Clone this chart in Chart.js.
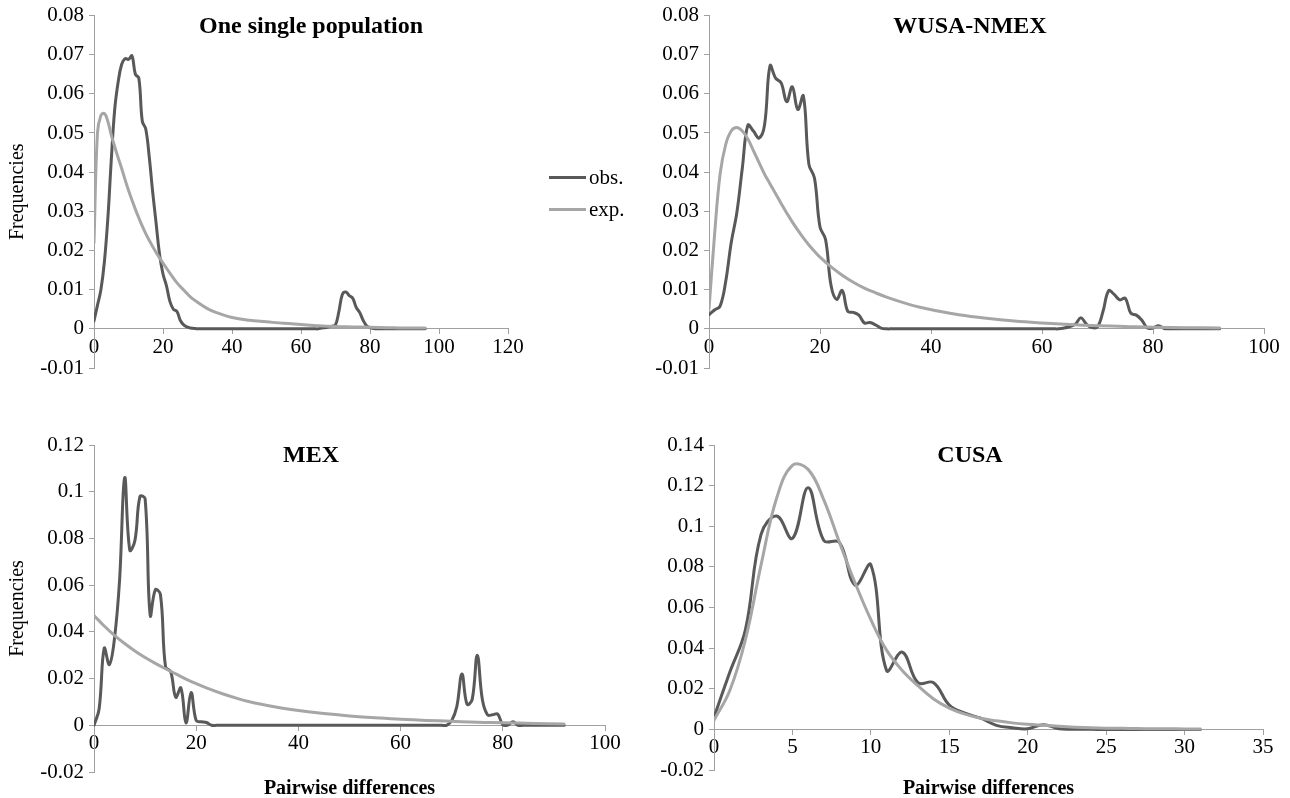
<!DOCTYPE html>
<html>
<head>
<meta charset="utf-8">
<script src="https://cdn.jsdelivr.net/npm/chart.js@4.4.1/dist/chart.umd.min.js"></script>
<style>
  html, body { margin: 0; padding: 0; background: #fff; }
  body { width: 1290px; height: 798px; position: relative; overflow: hidden; font-family: 'Liberation Serif', 'Times New Roman', serif; }
  canvas { position: absolute; }
  .leg { position: absolute; font-size: 21px; color: #000; line-height: 22px; }
  .leg .ln { position: absolute; left: 0; top: 10px; width: 37px; height: 3px; }
  .leg .tx { position: absolute; left: 40px; top: 0; white-space: nowrap; }
</style>
</head>
<body>
<canvas id="c1" width="640" height="395" style="left:0;top:0"></canvas>
<canvas id="c2" width="650" height="395" style="left:640px;top:0"></canvas>
<canvas id="c3" width="640" height="398" style="left:0;top:400px"></canvas>
<canvas id="c4" width="650" height="398" style="left:640px;top:400px"></canvas>
<div class="leg" style="left:549px;top:166px"><div class="ln" style="background:#595959"></div><div class="tx">obs.</div></div>
<div class="leg" style="left:549px;top:198px"><div class="ln" style="background:#a6a6a6"></div><div class="tx">exp.</div></div>
<script>
// ---------- DATA ----------
const seriesNames = ['obs.', 'exp.'];
const panelTitles = ['One single population', 'WUSA-NMEX', 'MEX', 'CUSA'];
const yAxisTitle = 'Frequencies';
const xAxisTitle = 'Pairwise differences';

// One single population: observed at x = 0..96
const singleObs = [0.002,0.006,0.010,0.017,0.028,0.043,0.056,0.063,0.0675,0.069,
  0.0688,0.0697,0.065,0.064,0.053,0.051,0.044,0.035,0.027,0.019,
  0.014,0.011,0.007,0.005,0.0045,0.0022,0.001,0.0005,0.0002,0.0001,
  0,0,0,0,0,0,0,0,0,0, 0,0,0,0,0,0,0,0,0,0, 0,0,0,0,0,0,0,0,0,0, 0,0,0,0,0,0,
  0.0002,0.0003,0.0005,0.0007,0.001,0.0045,0.0088,0.0094,0.0085,0.0078,
  0.0055,0.0042,0.0022,0.0008,0.0003,0.0001,
  0,0,0,0,0,0,0,0,0,0,0,0,0,0,0];
const singleExpX = [0,1,2,3,4,5,6,7,8,9,10,11,12,13,14,15,16,17,18,19,20,22,24,26,28,30,33,36,40,45,50,55,60,65,70,75,80,85,90,96];
const singleExpY = [0.022,0.050,0.0545,0.055,0.053,0.0495,0.0465,0.0437,0.041,0.0381,
  0.0354,0.0329,0.0305,0.0283,0.0262,0.0243,0.0226,0.021,0.0195,0.0181,
  0.0168,0.0142,0.0118,0.0099,0.0081,0.0068,0.0051,0.004,0.0029,
  0.0022,0.0018,0.0014,0.0011,0.0008,0.0006,0.0005,0.0004,0.0003,0.0002,0.0002];

// WUSA-NMEX: observed at x = 0..92
const wusaObs = [0.0036,0.0048,0.0058,0.012,0.022,0.0295,0.041,0.052,0.0505,0.0487,
  0.052,0.0672,0.064,0.0628,0.058,0.0618,0.056,0.0595,0.042,0.0385,
  0.026,0.0228,0.011,0.0075,0.0098,0.0045,0.0042,0.0035,0.0015,0.0016,
  0.001,0.0002,
  0,0,0,0,0,0,0,0,0,0, 0,0,0,0,0,0,0,0,0,0, 0,0,0,0,0,0,0,0,0,0, 0,0,
  0.0002,0.0006,0.0012,0.0028,0.0012,0.0003,0.0005,0.0045,0.0097,0.0088,
  0.0074,0.0078,0.004,0.0035,0.0022,0.0002,0.0002,0.0008,0.0001,
  0,0,0,0,0,0,0,0,0,0];
const wusaExpX = [0,1,2,3,4,5,6,7,8,9,10,11,12,13,14,15,16,17,18,19,20,22,24,26,28,30,32,35,38,41,45,50,55,60,65,70,75,80,86,92];
const wusaExpY = [0.005,0.024,0.0395,0.047,0.0505,0.0514,0.0505,0.0485,0.0455,0.0425,
  0.0395,0.037,0.0345,0.032,0.0296,0.0273,0.0252,0.0232,0.0214,0.0198,
  0.0183,0.0158,0.0137,0.0119,0.0104,0.0092,0.0081,0.0067,0.0055,0.0046,
  0.0036,0.0027,0.002,0.0015,0.0011,0.0008,0.0006,0.0004,0.0003,0.0002];

// MEX: observed at x = 0..92
const mexObs = [0,0.007,0.033,0.026,0.037,0.062,0.106,0.075,0.079,0.098,
  0.097,0.047,0.058,0.056,0.025,0.023,0.012,0.016,0.001,0.014,
  0.002,0.0015,0.0012,0,
  0,0,0,0,0,0,0,0,0,0, 0,0,0,0,0,0,0,0,0,0, 0,0,0,0,0,0,0,0,0,0, 0,0,0,0,0,0,0,0,0,0, 0,0,0,0,0,0,
  0.002,0.008,0.022,0.009,0.011,0.030,0.011,0.0045,0.0045,0.0048,
  0.0002,0.0001,0.0015,
  0,0,0,0,0,0,0,0,0,0];
const mexExpX = [0,2,4,6,8,10,12,14,16,18,20,22,25,28,30,35,40,45,50,55,60,65,70,75,80,86,92];
const mexExpY = [0.047,0.0425,0.0385,0.035,0.0318,0.029,0.0265,0.0242,0.022,0.0198,
  0.0178,0.016,0.0136,0.0115,0.0103,0.008,0.0063,0.005,0.004,0.0032,
  0.0026,0.0021,0.0017,0.0013,0.0011,0.0008,0.0006];

// CUSA: observed at x = 0..31
const cusaObs = [0.006,0.028,0.049,0.096,0.105,0.094,0.119,0.093,0.092,0.071,
  0.081,0.029,0.038,0.023,0.023,0.012,0.008,0.0055,0.002,0.0008,
  0.0003,0.0023,0.0003,0.0001,0,0,0,0,0,0,0,0];
const cusaExpX = [0,1,2,3,4,5,6,7,8,9,10,11,12,13,14,15,16,17,18,19,20,21,22,23,24,25,26,27,28,29,30,31];
const cusaExpY = [0.0045,0.019,0.044,0.081,0.114,0.13,0.128,0.113,0.092,0.072,
  0.054,0.039,0.029,0.0215,0.015,0.0105,0.0075,0.0055,0.0042,0.0032,
  0.0025,0.002,0.0015,0.0011,0.0008,0.0006,0.0005,0.0004,0.0003,0.0003,0.0002,0.0002];

// ---------- CHARTS ----------
const FONT = "'Liberation Serif', 'Times New Roman', serif";
const AXIS = '#a0a0a0';
const OBS_COLOR = '#595959';
const EXP_COLOR = '#a6a6a6';

const panelText = {
  id: 'panelText',
  afterDraw(chart, args, opts) {
    const ctx = chart.ctx;
    const a = chart.chartArea;
    ctx.save();
    ctx.fillStyle = '#000';
    ctx.textAlign = 'center';
    ctx.textBaseline = 'alphabetic';
    if (opts.title) {
      ctx.font = 'bold 24px ' + FONT;
      ctx.fillText(opts.title, opts.titleX, a.top + 17);
    }
    if (opts.xTitle) {
      ctx.font = 'bold 20px ' + FONT;
      ctx.fillText(opts.xTitle, (a.left + a.right) / 2, opts.xTitleY);
    }
    ctx.restore();
  }
};

function fmt(v) { return String(parseFloat(Number(v).toFixed(4))); }

function makePanel(id, p) {
  const obsData = p.obs.map((y, i) => ({x: i, y: y}));
  const expData = p.expX.map((x, i) => ({x: x, y: p.expY[i]}));
  return new Chart(document.getElementById(id), {
    type: 'line',
    data: {
      datasets: [
        {label: seriesNames[0], data: obsData, borderColor: OBS_COLOR, order: 1},
        {label: seriesNames[1], data: expData, borderColor: EXP_COLOR, order: 0}
      ]
    },
    plugins: [panelText],
    options: {
      responsive: false,
      animation: false,
      devicePixelRatio: 1,
      layout: {padding: {left: 0, top: p.padTop, right: p.padRight, bottom: p.padBottom}},
      elements: {
        point: {radius: 0, hoverRadius: 0},
        line: {tension: 0.4, borderWidth: 3, fill: false, borderCapStyle: 'round', borderJoinStyle: 'round'}
      },
      plugins: {
        legend: {display: false},
        tooltip: {enabled: false},
        panelText: {title: p.title, titleX: p.titleX, xTitle: p.xTitle, xTitleY: p.xTitleY}
      },
      scales: {
        x: {
          type: 'linear', min: 0, max: p.xMax,
          position: {y: 0},
          ticks: {stepSize: p.xStep, color: '#000', font: {family: FONT, size: 21}, padding: 1, maxRotation: 0, autoSkip: false, callback: fmt},
          grid: {drawOnChartArea: false, drawTicks: true, tickLength: 5, color: AXIS},
          border: {display: true, color: AXIS, width: 1}
        },
        y: {
          type: 'linear', min: p.yMin, max: p.yMax,
          ticks: {stepSize: p.yStep, color: '#000', font: {family: FONT, size: 21, lineHeight: 1}, padding: 5, autoSkip: false, callback: fmt},
          grid: {drawOnChartArea: false, drawTicks: true, tickLength: 5, color: AXIS},
          border: {display: true, color: AXIS, width: 1},
          title: {display: !!p.yTitle, text: yAxisTitle, color: '#000', font: {family: FONT, size: 20}, padding: {top: 6, bottom: 0}},
          afterFit(scale) { scale.width = p.areaLeft; }
        }
      }
    }
  });
}

makePanel('c1', {obs: singleObs, expX: singleExpX, expY: singleExpY,
  xMax: 120, xStep: 20, yMin: -0.01, yMax: 0.08, yStep: 0.01,
  areaLeft: 94, padTop: 15, padRight: 132, padBottom: 27,
  yTitle: true, title: panelTitles[0], titleX: 311});
makePanel('c2', {obs: wusaObs, expX: wusaExpX, expY: wusaExpY,
  xMax: 100, xStep: 20, yMin: -0.01, yMax: 0.08, yStep: 0.01,
  areaLeft: 69, padTop: 15, padRight: 26, padBottom: 27,
  yTitle: false, title: panelTitles[1], titleX: 330});
makePanel('c3', {obs: mexObs, expX: mexExpX, expY: mexExpY,
  xMax: 100, xStep: 20, yMin: -0.02, yMax: 0.12, yStep: 0.02,
  areaLeft: 94, padTop: 45, padRight: 35, padBottom: 26,
  yTitle: true, title: panelTitles[2], titleX: 311, xTitle: xAxisTitle, xTitleY: 394});
makePanel('c4', {obs: cusaObs, expX: cusaExpX, expY: cusaExpY,
  xMax: 35, xStep: 5, yMin: -0.02, yMax: 0.14, yStep: 0.02,
  areaLeft: 74, padTop: 45, padRight: 27, padBottom: 28,
  yTitle: false, title: panelTitles[3], titleX: 330, xTitle: xAxisTitle, xTitleY: 394});
</script>
</body>
</html>
